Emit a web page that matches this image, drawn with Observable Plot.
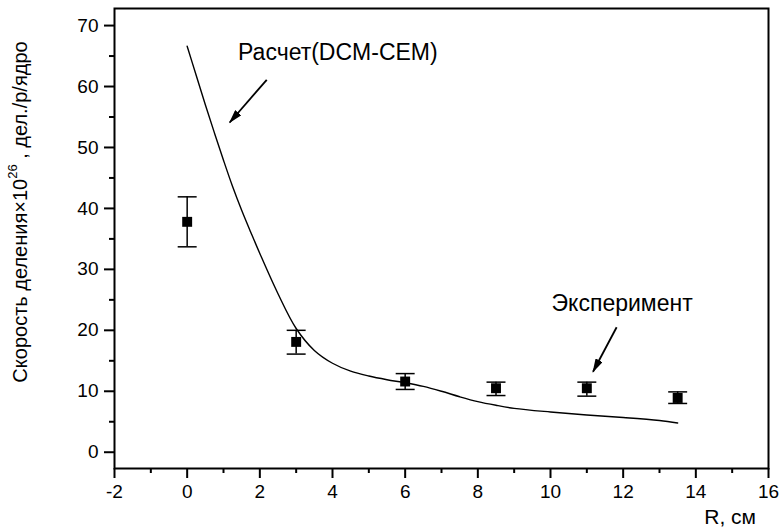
<!DOCTYPE html>
<html>
<head>
<meta charset="utf-8">
<script src="https://cdn.jsdelivr.net/npm/d3@7"></script>
<script src="https://cdn.jsdelivr.net/npm/@observablehq/plot@0.6"></script>
<style>
  html, body { margin: 0; padding: 0; background: #fff; }
  #chart svg { display: block; }
</style>
</head>
<body>
<div id="chart"></div>
<script>
// Calculated curve (DCM-CEM)
const curveX = [0, 0.25, 0.5, 0.75, 1, 1.25, 1.5, 1.75, 2, 2.5, 3, 3.5, 4, 4.5, 5, 5.5, 6, 6.5, 7, 7.5, 8, 8.5, 9, 10, 11, 12, 13, 13.5];
const curveY = [66.6, 61.8, 57.0, 52.4, 47.9, 43.6, 39.7, 36.1, 32.6, 26.0, 20.3, 16.7, 14.6, 13.3, 12.5, 11.9, 11.4, 10.8, 10.0, 9.1, 8.3, 7.7, 7.2, 6.6, 6.1, 5.7, 5.2, 4.8];

// Experiment points with error bars
const expX = [0, 3, 6, 8.5, 11, 13.5];
const expY = [37.8, 18.1, 11.6, 10.5, 10.5, 8.9];
const errLow = [33.7, 16.1, 10.3, 9.3, 9.2, 8.0];
const errHigh = [41.9, 20.0, 12.9, 11.5, 11.5, 9.9];

// Axis ticks
const xTicks = [-2, 0, 2, 4, 6, 8, 10, 12, 14, 16];
const xMinor = [-1, 1, 3, 5, 7, 9, 11, 13, 15];
const yTicks = [0, 10, 20, 30, 40, 50, 60, 70];
const yMinor = [5, 15, 25, 35, 45, 55, 65];

// Annotations
const noteText = ["Расчет(DCM-CEM)", "Эксперимент"];
const noteX = [1.4, 10.03];
const noteY = [65.6, 24.3];
const arrowX1 = [2.19, 11.82];
const arrowY1 = [61.1, 20.5];
const arrowX2 = [1.17, 11.17];
const arrowY2 = [54.1, 13.2];

const xLabel = "R, см";
const yLabelMain = "Скорость деления×10";
const yLabelSup = "26";
const yLabelRest = " , дел./р/ядро";

const curve = curveX.map((x, i) => ({x, y: curveY[i]}));
const exp = expX.map((x, i) => ({x, y: expY[i], lo: errLow[i], hi: errHigh[i]}));
const notes = noteText.map((t, i) => ({t, x: noteX[i], y: noteY[i], x1: arrowX1[i], y1: arrowY1[i], x2: arrowX2[i], y2: arrowY2[i]}));

const capSymbol = {
  draw(ctx, size) {
    const w = Math.sqrt(size);
    ctx.moveTo(-w / 2, 0);
    ctx.lineTo(w / 2, 0);
  }
};

const font = "Liberation Sans, Arial, sans-serif";

const svg = Plot.plot({
  width: 783,
  height: 531,
  marginLeft: 114,
  marginRight: 15,
  marginTop: 8,
  marginBottom: 63,
  style: {fontFamily: font, background: "#fff", color: "#000"},
  x: {domain: [-2, 16]},
  y: {domain: [-2.67, 72.8]},
  marks: [
    Plot.axisX({ticks: xTicks, tickSize: 10, tickPadding: 6, strokeWidth: 2, fontSize: 19, label: null, tickFormat: d => String(d).replace("−", "-")}),
    Plot.axisX({ticks: xMinor, tickSize: 5, strokeWidth: 2, text: null, label: null}),
    Plot.axisY({ticks: yTicks, tickSize: 10, tickPadding: 6, strokeWidth: 2, fontSize: 19, label: null}),
    Plot.axisY({ticks: yMinor, tickSize: 5, strokeWidth: 2, text: null, label: null}),
    Plot.frame({stroke: "#000", strokeWidth: 2}),
    Plot.line(curve, {x: "x", y: "y", curve: "catmull-rom", stroke: "#000", strokeWidth: 1.4}),
    Plot.ruleX(exp, {x: "x", y1: "lo", y2: "hi", stroke: "#000", strokeWidth: 1.5}),
    Plot.dot(exp, {x: "x", y: "lo", symbol: capSymbol, r: 10.7, stroke: "#000", strokeWidth: 1.5, fill: "none"}),
    Plot.dot(exp, {x: "x", y: "hi", symbol: capSymbol, r: 10.7, stroke: "#000", strokeWidth: 1.5, fill: "none"}),
    Plot.dot(exp, {x: "x", y: "y", symbol: "square", r: 5.6, fill: "#000", stroke: null}),
    Plot.link(notes, {x1: "x1", y1: "y1", x2: "x2", y2: "y2", stroke: "#000", strokeWidth: 1.8, className: "ann-arrow"}),
    Plot.text(notes, {x: "x", y: "y", text: "t", textAnchor: "start", fontSize: 23, fill: "#000"})
  ]
});

const s = d3.select(svg);
// filled triangular arrowheads for the annotation links
const defs = s.insert("defs", ":first-child");
defs.append("marker")
  .attr("id", "tri-head")
  .attr("viewBox", "0 0 14 8")
  .attr("refX", 13).attr("refY", 4)
  .attr("markerWidth", 14).attr("markerHeight", 8)
  .attr("markerUnits", "userSpaceOnUse")
  .attr("orient", "auto")
  .append("path").attr("d", "M0,0L14,4L0,8Z").attr("fill", "#000");
s.selectAll(".ann-arrow path").attr("marker-end", "url(#tri-head)");

s.append("text")
  .attr("x", 756).attr("y", 518)
  .attr("text-anchor", "end").attr("dominant-baseline", "middle")
  .attr("font-family", font).attr("font-size", 21).attr("fill", "#000")
  .text(xLabel);

const yl = s.append("text")
  .attr("transform", "translate(27,212) rotate(-90)")
  .attr("text-anchor", "middle")
  .attr("font-family", font).attr("font-size", 20).attr("fill", "#000");
yl.append("tspan").text(yLabelMain);
yl.append("tspan").attr("font-size", 13).attr("dy", "-0.75em").text(yLabelSup);
yl.append("tspan").attr("dy", "0.48em").text(yLabelRest);

document.getElementById("chart").appendChild(svg);
</script>
</body>
</html>
